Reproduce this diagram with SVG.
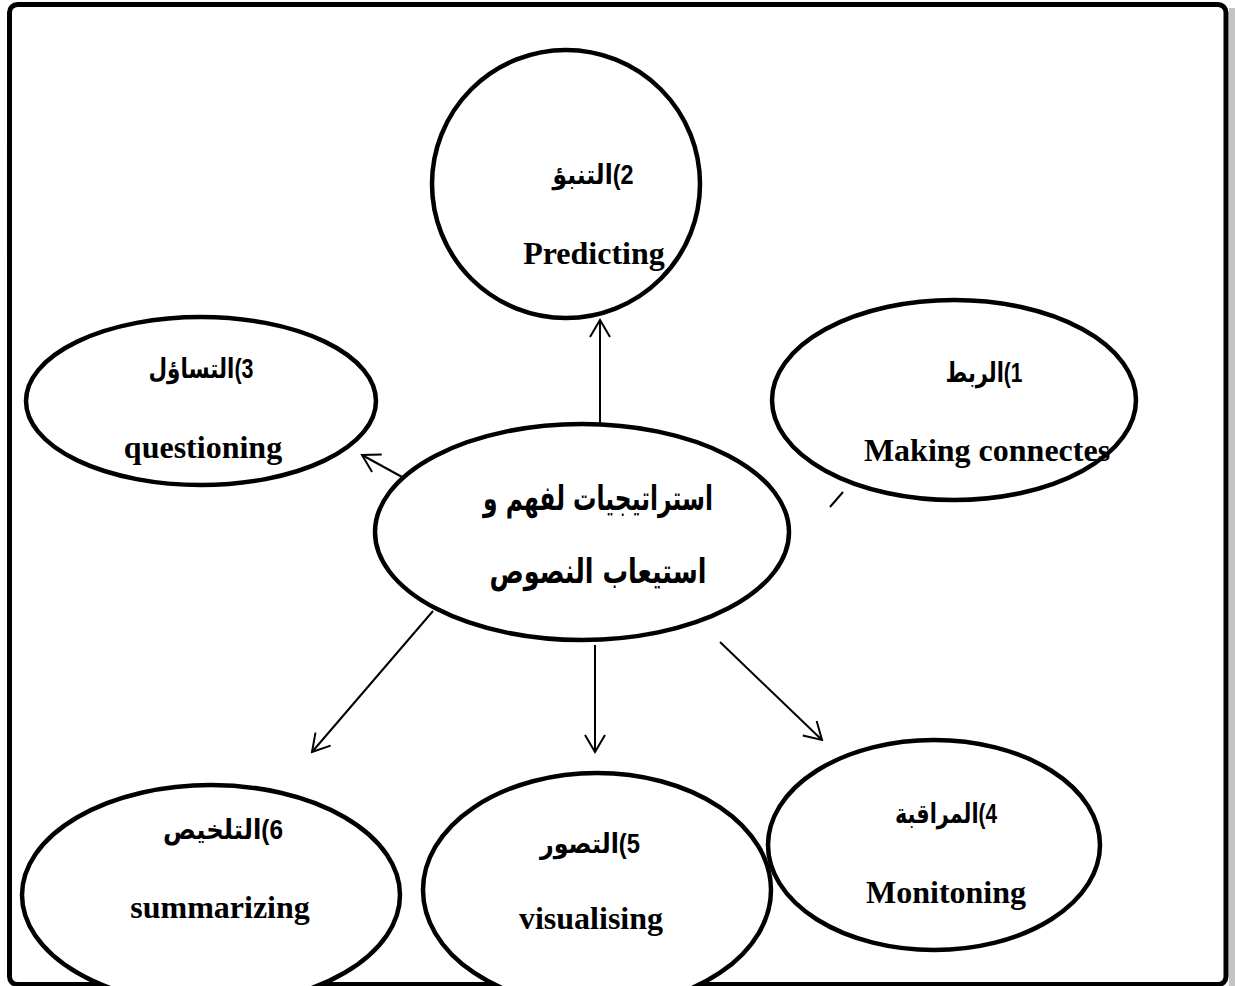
<svg xmlns="http://www.w3.org/2000/svg" width="1235" height="986" viewBox="0 0 1235 986">
  <style>
    .node { fill: #ffffff; stroke: #000000; stroke-width: 4.5; }
    .en { font-family: "Liberation Serif", "Times New Roman", serif; font-weight: bold; font-size: 32px; fill: #000; text-anchor: middle; }
    .ar { font-family: "Liberation Sans", "DejaVu Sans", sans-serif; font-weight: bold; font-size: 27px; fill: #000; text-anchor: middle; }
    .arc { font-family: "DejaVu Sans", sans-serif; font-weight: bold; font-size: 34px; fill: #000; text-anchor: middle; }
    .link { fill: none; stroke: #000000; stroke-width: 2; }
  </style>
  <defs>
    <marker id="open-arrow" viewBox="-19 -12 21 24" markerWidth="21" markerHeight="24" refX="0" refY="0" orient="auto" markerUnits="userSpaceOnUse">
      <path d="M-17,-10 L0,0 L-17,10" fill="none" stroke="#000" stroke-width="2"/>
    </marker>
  </defs>

  <rect x="0" y="0" width="1235" height="986" fill="#ffffff"/>
  <!-- page frame with its shadow -->
  <rect x="1229" y="8" width="6" height="978" fill="#c4c4c4"/>
  <rect x="9.5" y="4.5" width="1216.5" height="980" rx="8" fill="none" stroke="#000" stroke-width="5"/>

  <!-- connectors -->
  <g id="connectors">
    <line class="link" x1="600" y1="437" x2="600" y2="320" marker-end="url(#open-arrow)"/>
    <line class="link" x1="413" y1="483" x2="362" y2="455" marker-end="url(#open-arrow)"/>
    <line class="link" x1="830" y1="507" x2="843" y2="492"/>
    <line class="link" x1="433" y1="611" x2="312" y2="752" marker-end="url(#open-arrow)"/>
    <line class="link" x1="595" y1="645" x2="595" y2="752" marker-end="url(#open-arrow)"/>
    <line class="link" x1="720" y1="642" x2="822" y2="740" marker-end="url(#open-arrow)"/>
  </g>

  <g id="node-predicting">
    <ellipse class="node" cx="566" cy="184" rx="134" ry="134"/>
    <text class="ar" x="593" y="184" direction="rtl" textLength="81" lengthAdjust="spacingAndGlyphs">2)التنبؤ</text>
    <text class="en" x="594" y="264">Predicting</text>
  </g>

  <g id="node-questioning">
    <ellipse class="node" cx="201" cy="401" rx="175" ry="84"/>
    <text class="ar" x="201" y="378" direction="rtl" textLength="105" lengthAdjust="spacingAndGlyphs">3)التساؤل</text>
    <text class="en" x="203" y="458">questioning</text>
  </g>

  <g id="node-connecting">
    <ellipse class="node" cx="954" cy="400" rx="182" ry="100"/>
    <text class="ar" x="984" y="382" direction="rtl" textLength="77" lengthAdjust="spacingAndGlyphs">1)الربط</text>
    <text class="en" x="987" y="461">Making connectes</text>
  </g>

  <g id="node-center">
    <ellipse class="node" cx="582" cy="532" rx="207" ry="108"/>
    <text class="arc" x="598" y="510" direction="rtl" textLength="230" lengthAdjust="spacingAndGlyphs">استراتيجيات لفهم و</text>
    <text class="arc" x="598" y="583" direction="rtl" textLength="217" lengthAdjust="spacingAndGlyphs">استيعاب النصوص</text>
  </g>

  <g id="node-monitoring">
    <ellipse class="node" cx="934" cy="845" rx="166" ry="105"/>
    <text class="ar" x="946" y="823" direction="rtl" textLength="102" lengthAdjust="spacingAndGlyphs">4)المراقبة</text>
    <text class="en" x="946" y="903">Monitoning</text>
  </g>

  <g id="node-visualising">
    <ellipse class="node" cx="597" cy="890" rx="174" ry="117"/>
    <text class="ar" x="590" y="853" direction="rtl" textLength="100" lengthAdjust="spacingAndGlyphs">5)التصور</text>
    <text class="en" x="591" y="929">visualising</text>
  </g>

  <g id="node-summarizing">
    <ellipse class="node" cx="211" cy="895" rx="189" ry="110"/>
    <text class="ar" x="223" y="839" direction="rtl" textLength="120" lengthAdjust="spacingAndGlyphs">6)التلخيص</text>
    <text class="en" x="220" y="918">summarizing</text>
  </g>
</svg>
